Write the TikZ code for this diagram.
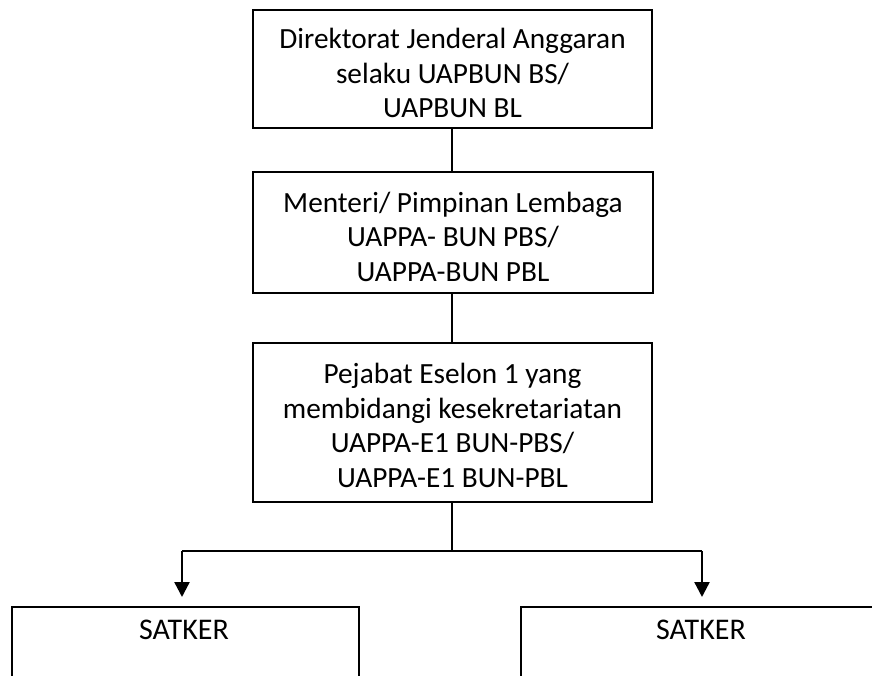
\documentclass[tikz,border=0pt]{standalone}
\usepackage{fontspec}
\setmainfont{Carlito}
\usetikzlibrary{arrows.meta}
\begin{document}
\begin{tikzpicture}[x=1pt,y=1pt,
  box/.style={draw=black,line width=2.4pt,rectangle,inner sep=0pt},
  txt/.style={align=center,inner sep=0pt,font=\fontsize{29.3}{34.5}\selectfont},
  conn/.style={draw=black,line width=2.4pt},
  arr/.style={conn,-{Triangle[width=15pt,length=15pt]}},
  lbl/.style={font=\fontsize{30}{34}\selectfont,inner sep=0pt}]
\useasboundingbox (0,0) rectangle (872,675);
\clip (0,0) rectangle (872,675);
\node[box,minimum width=399pt,minimum height=118pt] (dja) at (452.5,606) {};
\node[txt] (djat) at ([yshift=-4pt]dja.center)
  {Direktorat Jenderal Anggaran\\selaku UAPBUN BS/\\UAPBUN BL};
\node[box,minimum width=400pt,minimum height=121pt] (men) at (453,442.5) {};
\node[txt] (ment) at ([yshift=-4pt]men.center)
  {Menteri/ Pimpinan Lembaga\\UAPPA- BUN PBS/\\UAPPA-BUN PBL};
\node[box,minimum width=399pt,minimum height=159pt] (pej) at (452.5,252.5) {};
\node[txt] (pejt) at ([yshift=-3pt]pej.center)
  {Pejabat Eselon 1 yang\\membidangi kesekretariatan\\UAPPA-E1 BUN-PBS/\\UAPPA-E1 BUN-PBL};
\node[box,anchor=north west,minimum width=347pt,minimum height=120pt] (satL) at (11,69) {};
\node[box,anchor=north west,minimum width=400pt,minimum height=120pt] (satR) at (520,69) {};
\node[lbl] (satLt) at (184,45) {SATKER};
\node[lbl] (satRt) at (701,45) {SATKER};
\coordinate (br) at (452,124);
\coordinate (brL) at (182,124);
\coordinate (brR) at (702,124);
\draw[conn] (dja.south -| br) -- (men.north -| br);
\draw[conn] (men.south -| br) -- (pej.north -| br);
\draw[conn] (pej.south -| br) -- (br);
\draw[conn] (brL) -- (brR);
\draw[arr] (brL) -- ([yshift=9pt]satL.north -| brL);
\draw[arr] (brR) -- ([yshift=9pt]satR.north -| brR);
\end{tikzpicture}
\end{document}
